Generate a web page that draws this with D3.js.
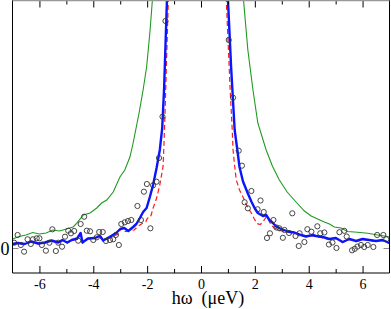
<!DOCTYPE html>
<html><head><meta charset="utf-8">
<script src="https://cdn.jsdelivr.net/npm/d3@7"></script>
<style>body{margin:0;background:#fff}svg{display:block}</style>
</head><body>
<script>
// ---- data ----
const xMajorTicks = [-6, -4, -2, 0, 2, 4, 6];
const xMinorTicks = [-5, -3, -1, 1, 3, 5];
const xTickLabels = ["-6", "-4", "-2", "0", "2", "4", "6"];
const yTicks = [0];
const yTickLabels = ["0"];
const xLabel = "hω  (μeV)";

const observed = [
  [-6.94,0.053],[-6.81,0.13],[-6.69,0.03],[-6.57,-0.037],[-6.44,0.087],[-6.32,0.04],[-6.24,0.087],
  [-6.10,0.097],[-6.00,0.097],[-5.91,0.03],[-5.76,-0.027],[-5.63,0.053],[-5.52,0.187],[-5.39,-0.03],
  [-5.30,0.053],[-5.16,0.013],[-5.05,0.113],[-4.93,0.173],[-4.83,0.147],[-4.71,0.17],[-4.56,0.073],
  [-4.47,0.24],[-4.34,0.313],[-4.24,0.173],[-4.12,0.167],[-4.00,0.08],[-3.87,0.107],[-3.78,0.16],
  [-3.65,0.16],[-3.53,0.07],[-3.38,0.08],[-3.26,0.087],[-3.16,0.13],[-3.05,0.03],[-2.96,0.24],
  [-2.83,0.257],[-2.71,0.27],[-2.59,0.28],[-2.36,0.42],[-2.23,0.28],[-2.12,0.563],[-2.01,0.64],
  [-1.88,0.197],[-1.78,0.627],[-1.65,0.663],[-1.56,0.90],[-1.43,1.313],[-1.32,2.27],
  [1.03,2.08],[1.19,1.503],[1.40,0.973],[1.52,0.823],[1.62,0.457],[1.74,0.397],[1.87,0.57],
  [2.10,0.387],[2.21,0.475],[2.33,0.36],[2.45,0.10],[2.56,0.147],[2.69,0.28],[2.80,0.205],
  [2.91,0.197],[3.04,0.102],[3.10,0.18],[3.27,0.15],[3.39,0.347],[3.51,0.12],[3.63,0.02],
  [3.66,0.147],[3.84,0.06],[3.95,0.188],[4.10,0.163],[4.32,0.217],[4.43,0.147],[4.58,0.155],
  [4.75,0.035],[4.88,0.055],[5.03,0.00],[5.14,0.158],[5.32,0.172],[5.41,0.115],[5.61,-0.023],
  [5.71,-0.008],[5.81,0.014],[5.94,0.03],[6.06,0.01],[6.19,0.03],[6.40,0.01],[6.54,0.13],
  [6.77,0.13],[6.88,0.087]
];

const blueFit = [
  [-7.0,0.04],[-6.8,0.05],[-6.55,0.04],[-6.3,0.065],[-6.05,0.045],[-5.8,0.055],[-5.55,0.075],
  [-5.3,0.055],[-5.15,0.08],[-4.97,0.055],[-4.8,0.08],[-4.6,0.095],[-4.47,0.15],[-4.4,0.055],
  [-4.2,0.095],[-3.95,0.10],[-3.75,0.12],[-3.63,0.075],[-3.4,0.11],[-3.15,0.15],[-3.0,0.19],
  [-2.85,0.20],[-2.7,0.17],[-2.52,0.21],[-2.4,0.24],[-2.27,0.30],[-2.15,0.36],[-2.02,0.40],
  [-1.9,0.51],[-1.78,0.63],[-1.65,0.80],[-1.53,0.98],[-1.44,1.2],[-1.37,1.6],[-1.25,2.6],
  [0.98,2.6],[1.12,1.8],[1.25,1.18],[1.35,0.98],[1.43,0.81],[1.56,0.665],[1.74,0.545],
  [1.87,0.465],[1.99,0.40],[2.11,0.35],[2.3,0.32],[2.42,0.33],[2.54,0.28],[2.67,0.25],
  [2.79,0.215],[2.98,0.19],[3.22,0.165],[3.47,0.155],[3.72,0.13],[3.9,0.115],[4.15,0.13],
  [4.27,0.12],[4.52,0.11],[4.77,0.09],[5.01,0.10],[5.26,0.06],[5.51,0.09],[5.76,0.07],
  [6.0,0.09],[6.25,0.08],[6.5,0.07],[6.74,0.08],[7.0,0.05]
];

const redFit = [
  [-7.0,0.035],[-6.8,0.045],[-6.55,0.035],[-6.3,0.06],[-6.05,0.04],[-5.8,0.05],[-5.55,0.07],
  [-5.3,0.05],[-5.15,0.075],[-4.97,0.05],[-4.8,0.075],[-4.6,0.085],[-4.47,0.14],[-4.4,0.05],
  [-4.2,0.09],[-3.95,0.095],[-3.75,0.11],[-3.63,0.07],[-3.38,0.10],[-3.07,0.14],[-2.97,0.197],
  [-2.84,0.163],[-2.66,0.173],[-2.48,0.18],[-2.36,0.213],[-2.17,0.247],[-2.05,0.263],
  [-1.99,0.297],[-1.87,0.313],[-1.78,0.397],[-1.65,0.497],[-1.53,0.63],[-1.41,0.813],
  [-1.38,1.0],[-1.33,1.4],[-1.2,2.6],
  [0.92,2.6],[1.08,1.6],[1.16,1.18],[1.19,0.98],[1.25,0.82],[1.31,0.68],[1.43,0.58],
  [1.56,0.51],[1.74,0.40],[1.87,0.35],[1.98,0.29],[2.08,0.245],[2.2,0.235],[2.3,0.26],
  [2.42,0.31],[2.48,0.30],[2.6,0.23],[2.73,0.20],[2.85,0.18],[3.2,0.16],[3.53,0.14],
  [3.78,0.12],[4.03,0.125],[4.27,0.115],[4.52,0.10],[4.77,0.085],[5.01,0.095],[5.26,0.055],
  [5.51,0.085],[5.76,0.065],[6.0,0.085],[6.25,0.075],[6.5,0.065],[6.74,0.075],[7.0,0.045]
];

const greenFit = [
  [-7.0,0.09],[-6.75,0.115],[-6.5,0.13],[-6.25,0.155],[-6.0,0.14],[-5.75,0.15],[-5.5,0.18],
  [-5.25,0.17],[-5.0,0.19],[-4.75,0.21],[-4.62,0.247],[-4.37,0.33],[-4.12,0.35],[-3.87,0.40],
  [-3.69,0.45],[-3.5,0.48],[-3.26,0.56],[-3.01,0.71],[-2.83,0.78],[-2.64,0.91],[-2.52,1.05],
  [-2.3,1.35],[-2.15,1.58],[-2.02,1.81],[-1.9,2.15],[-1.77,2.6],
  [1.54,2.6],[1.74,1.98],[1.93,1.58],[2.11,1.25],[2.42,0.98],[2.65,0.82],[2.91,0.68],
  [3.2,0.56],[3.53,0.46],[3.84,0.37],[4.09,0.32],[4.33,0.29],[4.58,0.26],[4.77,0.24],
  [4.95,0.21],[5.2,0.2],[5.44,0.165],[5.81,0.157],[6.19,0.147],[6.56,0.13],[6.93,0.115],[7.0,0.113]
];

// ---- chart ----
const W = 391, H = 309;
const L = 12.5, R = 389.5, T = 0.5, B = 273;
const x = d3.scaleLinear().domain([-7, 7]).range([L, R]);
const y = d3.scaleLinear().domain([-0.25, 2.48]).range([B, 0]);
const font = "'Liberation Serif','DejaVu Serif','Times New Roman',serif";

const svg = d3.select("body").append("svg").attr("width", W).attr("height", H);

svg.append("defs").append("clipPath").attr("id", "clip")
  .append("rect").attr("x", L).attr("y", 0).attr("width", R - L).attr("height", B);

const plot = svg.append("g").attr("clip-path", "url(#clip)");
const line = d3.line().x(d => x(d[0])).y(d => y(d[1]));

plot.append("path").datum(greenFit).attr("d", line)
  .attr("fill", "none").attr("stroke", "#1f9a1f").attr("stroke-width", 1.1);
plot.append("path").datum(redFit).attr("d", line)
  .attr("fill", "none").attr("stroke", "#ff1a1a").attr("stroke-width", 1.2)
  .attr("stroke-dasharray", "5,3");
plot.append("path").datum(blueFit).attr("d", line)
  .attr("fill", "none").attr("stroke", "#0a14ff").attr("stroke-width", 2.4)
  .attr("stroke-linejoin", "round");
plot.selectAll("circle.obs").data(observed).join("circle")
  .attr("class", "obs")
  .attr("cx", d => x(d[0])).attr("cy", d => y(d[1])).attr("r", 2.6)
  .attr("fill", "none").attr("stroke", "#333").attr("stroke-width", 0.9);

// axes
const gBottom = svg.append("g").attr("transform", `translate(0,${B})`)
  .call(d3.axisBottom(x).tickValues(xMajorTicks).tickSize(-7).tickPadding(6)
    .tickFormat((d, i) => xTickLabels[i]));
gBottom.select(".domain").remove();
gBottom.selectAll("text").attr("font-family", font).attr("font-size", 14).attr("fill", "#000");
svg.append("g").attr("transform", `translate(0,${B})`)
  .call(d3.axisBottom(x).tickValues(xMinorTicks).tickSize(-4).tickFormat(""))
  .select(".domain").remove();

const gTop = svg.append("g").attr("transform", `translate(0,${T})`)
  .call(d3.axisTop(x).tickValues(xMajorTicks).tickSize(-7).tickFormat(""));
gTop.select(".domain").remove();
svg.append("g").attr("transform", `translate(0,${T})`)
  .call(d3.axisTop(x).tickValues(xMinorTicks).tickSize(-4).tickFormat(""))
  .select(".domain").remove();

const gLeft = svg.append("g").attr("transform", `translate(${L},0)`)
  .call(d3.axisLeft(y).tickValues(yTicks).tickSize(-6).tickPadding(3)
    .tickFormat((d, i) => yTickLabels[i]));
gLeft.select(".domain").remove();
gLeft.selectAll("line").attr("stroke", "#888");
gLeft.selectAll("text").attr("font-family", font).attr("font-size", 18)
  .attr("dy", "0.36em").attr("fill", "#000");

const gRight = svg.append("g").attr("transform", `translate(${R},0)`)
  .call(d3.axisRight(y).tickValues(yTicks).tickSize(-6).tickFormat(""));
gRight.select(".domain").remove();
gRight.selectAll("line").attr("stroke", "#888");

// frame
svg.append("line").attr("x1", L).attr("x2", L).attr("y1", 0).attr("y2", B)
  .attr("stroke", "#000").attr("stroke-width", 1);
svg.append("line").attr("x1", R).attr("x2", R).attr("y1", 0).attr("y2", B)
  .attr("stroke", "#000").attr("stroke-width", 1);
svg.append("line").attr("x1", L).attr("x2", R).attr("y1", B).attr("y2", B)
  .attr("stroke", "#000").attr("stroke-width", 1);
svg.append("line").attr("x1", L).attr("x2", R).attr("y1", T).attr("y2", T)
  .attr("stroke", "#999").attr("stroke-width", 1.5);

svg.append("text").attr("x", 208).attr("y", 304)
  .attr("text-anchor", "middle").attr("font-family", font).attr("font-size", 18)
  .style("white-space", "pre").text(xLabel);
</script>
</body></html>
